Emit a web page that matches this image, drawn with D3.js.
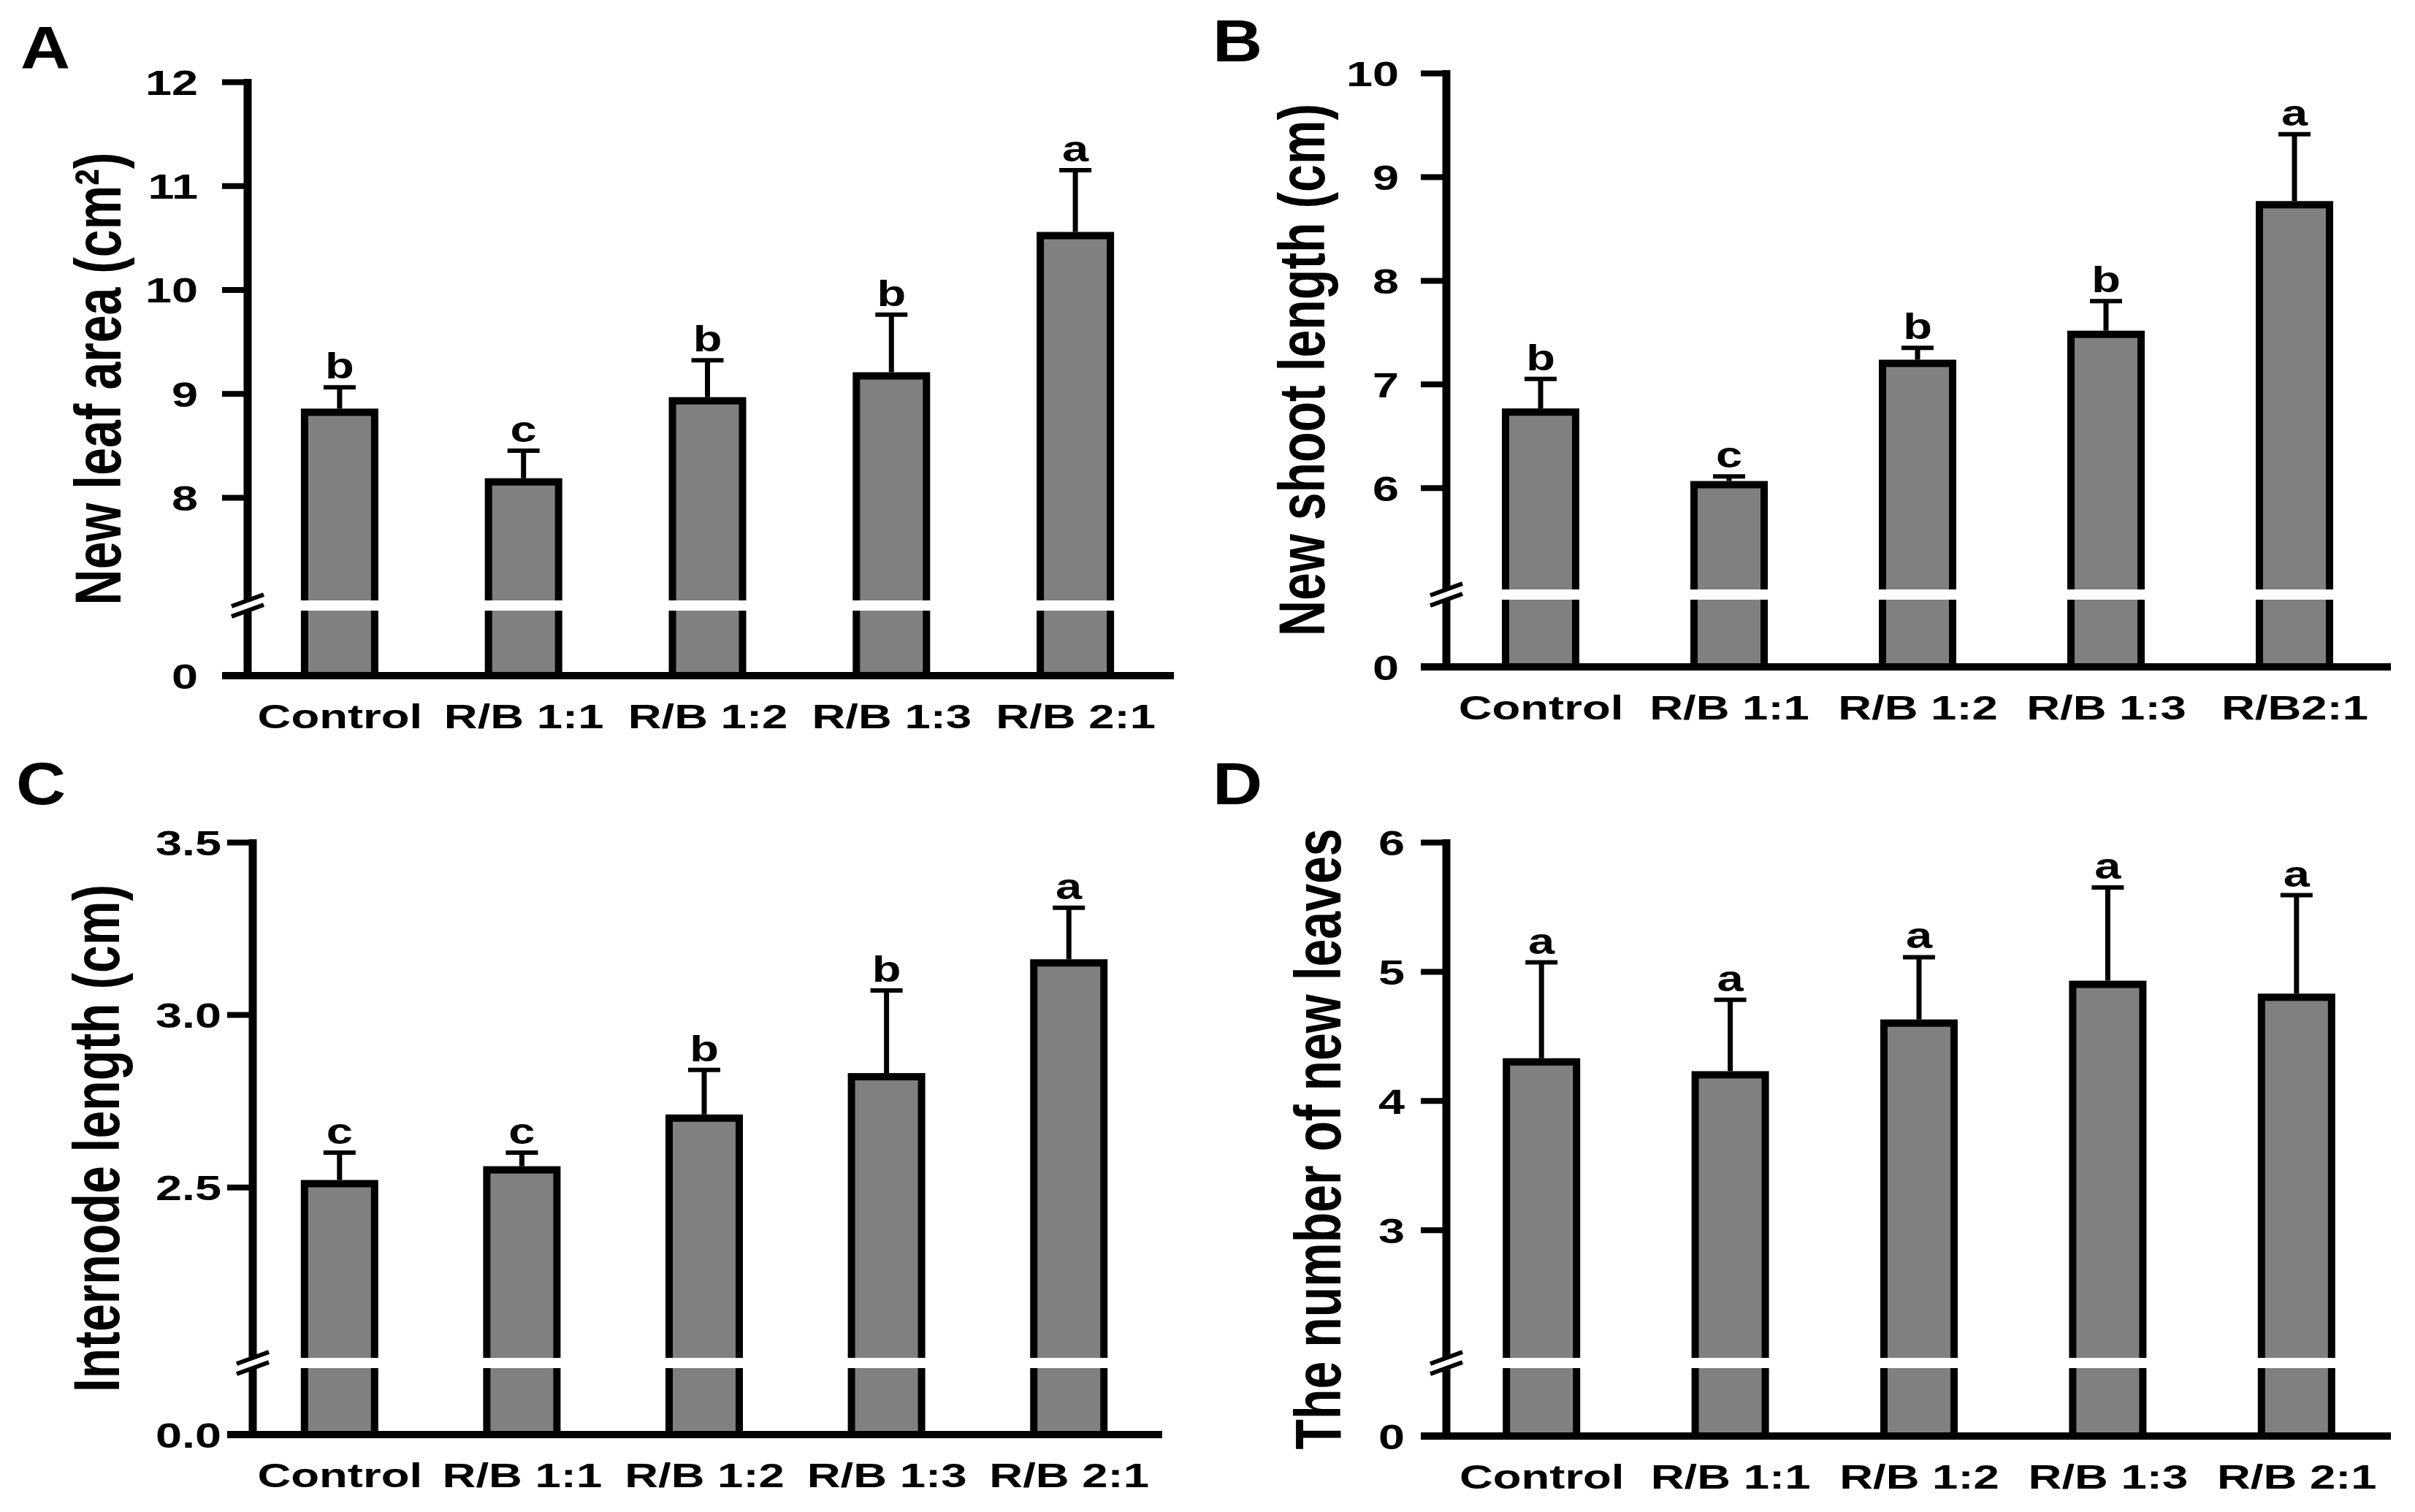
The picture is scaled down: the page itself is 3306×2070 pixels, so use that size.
<!DOCTYPE html>
<html>
<head>
<meta charset="utf-8">
<script src="https://cdn.jsdelivr.net/npm/d3@7"></script>
<style>
  html, body { margin: 0; padding: 0; background: #fff; }
  svg { display: block; }
  text { font-family: "Liberation Sans", Arial, Helvetica, sans-serif; font-weight: bold; fill: #000; }
</style>
</head>
<body>
<svg id="chart" width="3306" height="2070"></svg>
<script>
// ---------------- data ----------------
const categories = ["Control", "R/B 1:1", "R/B 1:2", "R/B 1:3", "R/B 2:1"];
const categoriesB = ["Control", "R/B 1:1", "R/B 1:2", "R/B 1:3", "R/B2:1"];

const leafAreaMean = [8.82, 8.15, 8.93, 9.17, 10.52];
const leafAreaSD = [0.24, 0.30, 0.39, 0.59, 0.63];
const leafAreaLetters = ["b", "c", "b", "b", "a"];
const leafAreaTicks = [0, 8, 9, 10, 11, 12];

const shootMean = [6.73, 6.03, 7.20, 7.48, 8.73];
const shootSD = [0.32, 0.08, 0.15, 0.32, 0.68];
const shootLetters = ["b", "c", "b", "b", "a"];
const shootTicks = [0, 6, 7, 8, 9, 10];

const internodeMean = [2.51, 2.55, 2.70, 2.82, 3.15];
const internodeSD = [0.09, 0.05, 0.14, 0.25, 0.16];
const internodeLetters = ["c", "c", "b", "b", "a"];
const internodeTicks = [0, 2.5, 3.0, 3.5];

const leavesMean = [4.30, 4.20, 4.60, 4.90, 4.80];
const leavesSD = [0.77, 0.58, 0.51, 0.75, 0.79];
const leavesLetters = ["a", "a", "a", "a", "a"];
const leavesTicks = [0, 3, 4, 5, 6];

// ---------------- layout ----------------
const panels = [
  { tag: "A", cats: categories, mean: leafAreaMean, sd: leafAreaSD, letters: leafAreaLetters, ticks: leafAreaTicks,
    fmt: d3.format("d"), title: "New leaf area (cm²)",
    axisX: 339, xr: [339, 1598], xEnd: 1607, top: 112, base: 925, max: 12, brk: 6.96, yb: 829,
    tickPad: 33, titleX: 165, tagX: 28, tagY: 93 },
  { tag: "B", cats: categoriesB, mean: shootMean, sd: shootSD, letters: shootLetters, ticks: shootTicks,
    fmt: d3.format("d"), title: "New shoot length (cm)",
    axisX: 1980, xr: [1980, 3270], xEnd: 3273, top: 100, base: 913, max: 10, brk: 4.97, yb: 814,
    tickPad: 30, titleX: 1813, tagX: 1660, tagY: 84 },
  { tag: "C", cats: categories, mean: internodeMean, sd: internodeSD, letters: internodeLetters, ticks: internodeTicks,
    fmt: d3.format(".1f"), title: "Internode length (cm)",
    axisX: 346, xr: [340, 1588], xEnd: 1591, top: 1153, base: 1964, max: 3.5, brk: 1.99, yb: 1866,
    tickPad: 8, titleX: 163, tagX: 22, tagY: 1101 },
  { tag: "D", cats: categories, mean: leavesMean, sd: leavesSD, letters: leavesLetters, ticks: leavesTicks,
    fmt: d3.format("d"), title: "The number of new leaves",
    axisX: 1980, xr: [1981, 3273], xEnd: 3273, top: 1153, base: 1966, max: 6, brk: 1.97, yb: 1866,
    tickPad: 22, titleX: 1835, tagX: 1660, tagY: 1101 }
];

const SX = 1.35;      // horizontal stretch of the original typography
const tickLen = 35;
const barW = 96;

const svg = d3.select("#chart");
svg.append("rect").attr("width", 3306).attr("height", 2070).attr("fill", "#fff");

panels.forEach(p => {
  const g = svg.append("g");
  const x = d3.scalePoint().domain(p.cats).range(p.xr).padding(0.5);
  const y = d3.scaleLinear().domain([0, p.brk, p.max]).range([p.base, p.yb, p.top]);

  // bars
  g.selectAll("rect.bar").data(p.mean).join("rect")
    .attr("class", "bar")
    .attr("x", (d, i) => x(p.cats[i]) - barW / 2)
    .attr("width", barW)
    .attr("y", d => y(d))
    .attr("height", d => p.base - y(d))
    .attr("fill", "#808080")
    .attr("stroke", "#000")
    .attr("stroke-width", 10);

  // error bars
  g.selectAll("line.err").data(p.mean).join("line")
    .attr("class", "err")
    .attr("x1", (d, i) => x(p.cats[i])).attr("x2", (d, i) => x(p.cats[i]))
    .attr("y1", d => y(d) - 5).attr("y2", (d, i) => y(d + p.sd[i]))
    .attr("stroke", "#000").attr("stroke-width", 7);
  g.selectAll("line.cap").data(p.mean).join("line")
    .attr("class", "cap")
    .attr("x1", (d, i) => x(p.cats[i]) - 22).attr("x2", (d, i) => x(p.cats[i]) + 22)
    .attr("y1", (d, i) => y(d + p.sd[i])).attr("y2", (d, i) => y(d + p.sd[i]))
    .attr("stroke", "#000").attr("stroke-width", 6);

  // significance letters
  g.selectAll("text.sig").data(p.letters).join("text")
    .attr("class", "sig")
    .attr("text-anchor", "middle")
    .attr("font-size", 50)
    .attr("transform", (d, i) => `translate(${x(p.cats[i])},${y(p.mean[i] + p.sd[i]) - 12}) scale(1.3,1)`)
    .text(d => d);

  // y axis line
  g.append("line")
    .attr("x1", p.axisX).attr("x2", p.axisX)
    .attr("y1", p.top - 4).attr("y2", p.base)
    .attr("stroke", "#000").attr("stroke-width", 11);

  // y axis ticks and labels
  const yAxis = d3.axisLeft(y).tickValues(p.ticks).tickFormat(p.fmt)
    .tickSize(tickLen).tickPadding(p.tickPad);
  const ya = g.append("g").attr("transform", `translate(${p.axisX},0)`).call(yAxis);
  ya.select(".domain").remove();
  ya.selectAll(".tick line").attr("stroke", "#000").attr("stroke-width", 8);
  ya.selectAll(".tick text")
    .attr("font-size", 48)
    .attr("font-family", null)
    .attr("x", -(tickLen + p.tickPad) / SX)
    .attr("dy", "0.36em")
    .attr("transform", `scale(${SX},1)`);

  // baseline (x axis)
  g.append("line")
    .attr("x1", p.axisX - tickLen).attr("x2", p.xEnd)
    .attr("y1", p.base).attr("y2", p.base)
    .attr("stroke", "#000").attr("stroke-width", 10);

  // category labels
  const xAxis = d3.axisBottom(x).tickSize(0).tickPadding(0);
  const xa = g.append("g").attr("transform", `translate(0,${p.base + 72})`).call(xAxis);
  xa.select(".domain").remove();
  xa.selectAll(".tick text")
    .attr("font-size", 46)
    .attr("font-family", null)
    .attr("y", 0).attr("dy", 0)
    .attr("transform", `scale(1.38,1)`);

  // axis break: white band over bars, slashes on y axis
  g.selectAll("rect.gap").data(p.mean).join("rect")
    .attr("class", "gap")
    .attr("x", (d, i) => x(p.cats[i]) - barW / 2 - 7)
    .attr("width", barW + 14)
    .attr("y", p.yb - 7).attr("height", 14)
    .attr("fill", "#fff");
  g.append("line")
    .attr("x1", p.axisX - 14).attr("x2", p.axisX + 14)
    .attr("y1", p.yb + 5).attr("y2", p.yb - 5)
    .attr("stroke", "#fff").attr("stroke-width", 10);
  [-7, 7].forEach(off => {
    g.append("line")
      .attr("x1", p.axisX - 22).attr("x2", p.axisX + 22)
      .attr("y1", p.yb + off + 8).attr("y2", p.yb + off - 8)
      .attr("stroke", "#000").attr("stroke-width", 6);
  });

  // y title
  const yc = (p.top + p.base) / 2;
  g.append("text")
    .attr("text-anchor", "middle")
    .attr("font-size", 68)
    .attr("transform", `translate(${p.titleX},${yc}) scale(1.3,1) rotate(-90)`)
    .text(p.title);

  // panel tag
  g.append("text")
    .attr("font-size", 82)
    .attr("transform", `translate(${p.tagX},${p.tagY}) scale(1.15,1)`)
    .text(p.tag);
});
</script>
</body>
</html>
